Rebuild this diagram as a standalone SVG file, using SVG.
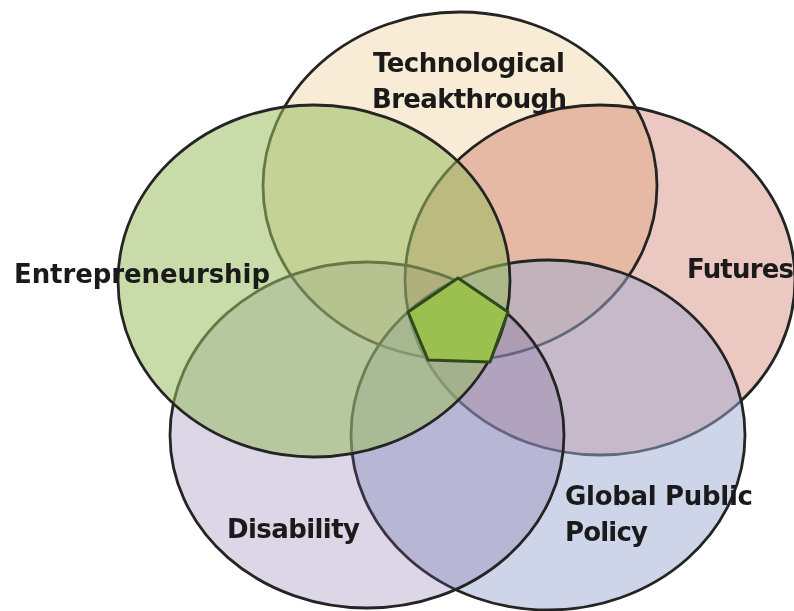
<svg xmlns="http://www.w3.org/2000/svg" width="794" height="611" viewBox="0 0 794 611">
  <style>
    .rim { fill: none; stroke: #242424; stroke-width: 2.8; }
    .label { font-family: "DejaVu Sans", "Verdana", sans-serif; font-weight: bold; font-size: 26px; fill: #1a1a1a; }
  </style>
  <rect x="0" y="0" width="794" height="611" fill="#fff"/>

  <!-- circles are stacked back to front; later fills tint the rims beneath them -->
  <g id="futures">
    <ellipse cx="600" cy="280" rx="195" ry="175" fill="#ecc8c2"/>
    <ellipse class="rim" cx="600" cy="280" rx="195" ry="175"/>
    <text class="label" x="687" y="278" textLength="107">Futures</text>
  </g>

  <g id="tech">
    <ellipse cx="460" cy="186" rx="197" ry="174" fill="#f8ecd6" style="mix-blend-mode: multiply"/>
    <ellipse class="rim" cx="460" cy="186" rx="197" ry="174"/>
    <text class="label" x="373" y="72" textLength="192">Technological</text>
    <text class="label" x="372" y="108" textLength="195">Breakthrough</text>
  </g>

  <g id="policy">
    <ellipse cx="548" cy="435" rx="197" ry="175" fill="#9fabd1" fill-opacity="0.5"/>
    <ellipse class="rim" cx="548" cy="435" rx="197" ry="175"/>
    <text class="label" x="565" y="505" textLength="188">Global Public</text>
    <text class="label" x="565" y="541" textLength="83">Policy</text>
  </g>

  <g id="disability">
    <ellipse cx="367" cy="435" rx="197" ry="173" fill="#735b9b" fill-opacity="0.25"/>
    <ellipse class="rim" cx="367" cy="435" rx="197" ry="173"/>
    <text class="label" x="227" y="538" textLength="133">Disability</text>
  </g>

  <g id="entre">
    <ellipse cx="314" cy="281" rx="196" ry="176" fill="#9bbe63" fill-opacity="0.55"/>
    <ellipse class="rim" cx="314" cy="281" rx="196" ry="176" stroke="#25321d"/>
    <text class="label" x="14" y="283" textLength="256">Entrepreneurship</text>
  </g>

  <g id="core">
    <polygon points="458,278 508,312 490,362 428,360 408,312" fill="#9cc04f" stroke="#2e4a1d" stroke-width="3" stroke-linejoin="round"/>
  </g>
</svg>
